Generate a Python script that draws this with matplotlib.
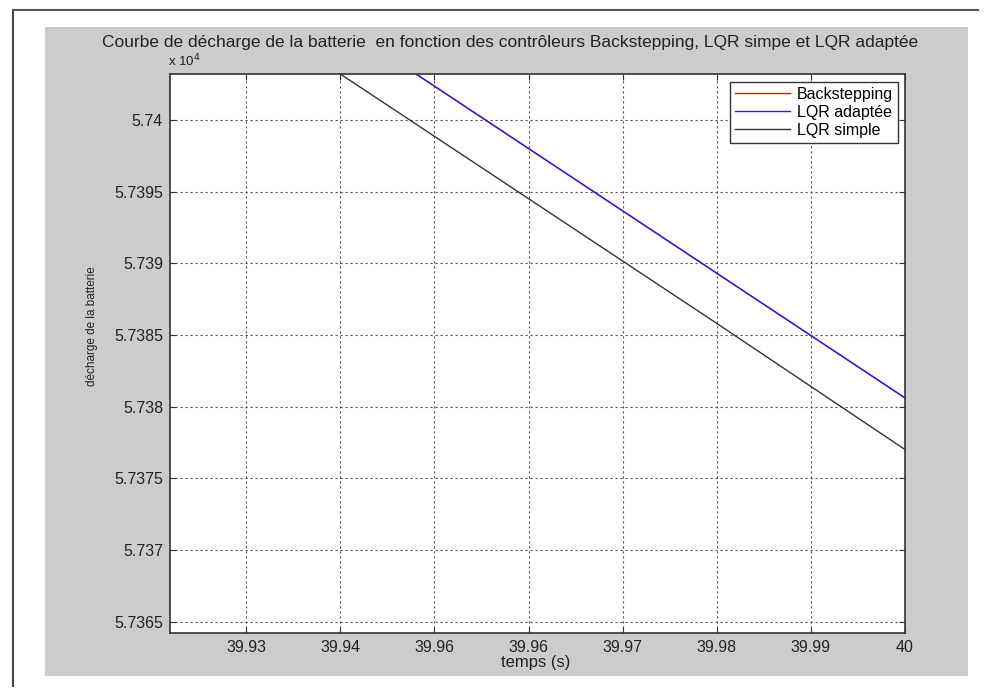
import matplotlib
matplotlib.use("Agg")
import matplotlib.pyplot as plt
from matplotlib.lines import Line2D
from matplotlib.patches import Rectangle

plt.rcParams['font.family'] = ['Liberation Sans', 'DejaVu Sans']

# ---- data ----
time_s = [39.92, 39.94, 39.96, 39.98, 40.00]
backstepping = [57415.4, 57406.7, 57398.0, 57389.3, 57380.6]
lqr_adaptee = [57415.4, 57406.7, 57398.0, 57389.3, 57380.6]
lqr_simple = [57411.9, 57403.2, 57394.5, 57385.8, 57377.0]

x_ticks = [39.93, 39.94, 39.95, 39.96, 39.97, 39.98, 39.99, 40.00]
x_tick_labels = ["39.93", "39.94", "39.96", "39.96", "39.97", "39.98", "39.99", "40"]
y_ticks = [57365, 57370, 57375, 57380, 57385, 57390, 57395, 57400]
y_tick_labels = ["5.7365", "5.737", "5.7375", "5.738", "5.7385", "5.739", "5.7395", "5.74"]
x_limits = (39.9219, 40.0)
y_limits = (57364.2, 57403.2)

title = "Courbe de décharge de la batterie  en fonction des contrôleurs Backstepping, LQR simpe et LQR adaptée"
series_labels = ["Backstepping", "LQR adaptée", "LQR simple"]

W, H = 984, 688
fig = plt.figure(figsize=(W / 100, H / 100), dpi=100)
fig.patch.set_facecolor('white')

def fx(px):
    return px / W

def fy(py):
    return 1 - py / H

# gray MATLAB figure area
fig.patches.append(Rectangle((fx(45), fy(676)), fx(968) - fx(45), fy(27) - fy(676),
                             transform=fig.transFigure, facecolor='#cccccc',
                             edgecolor='none', zorder=-5))
# outer document frame
fig.lines.append(Line2D([fx(13), fx(13)], [fy(10), fy(686)], transform=fig.transFigure,
                        color='#444444', lw=1.5, zorder=-5))
fig.lines.append(Line2D([fx(13), fx(978)], [fy(10), fy(10)], transform=fig.transFigure,
                        color='#555555', lw=1.5, zorder=-5))

ax = fig.add_axes([fx(170), fy(633), fx(905) - fx(170), fy(74) - fy(633)])
ax.set_facecolor('white')

ax.plot(time_s, backstepping, color='#ff0000', lw=1.0, label=series_labels[0])
ax.plot(time_s, lqr_adaptee, color='#2020ff', lw=1.0, label=series_labels[1])
ax.plot(time_s, lqr_simple, color='#333333', lw=1.0, label=series_labels[2])

ax.set_xlim(*x_limits)
ax.set_ylim(*y_limits)
ax.set_xticks(x_ticks)
ax.set_xticklabels(x_tick_labels, fontsize=11.5, color='#222222')
ax.set_yticks(y_ticks)
ax.set_yticklabels(y_tick_labels, fontsize=11.5, color='#222222')
ax.tick_params(direction='in', top=True, right=True, length=4, width=0.8, color='#333333', pad=5)

ax.grid(True, linestyle=(0, (2, 2.5)), color='#555555', lw=0.8)
for s in ax.spines.values():
    s.set_linewidth(1.2)
    s.set_color('#333333')

leg = ax.legend(loc='upper right', bbox_to_anchor=(0.990, 0.986), borderaxespad=0,
                fontsize=11.5, fancybox=False, framealpha=1, edgecolor='#333333',
                handlelength=3.4, handletextpad=0.45, labelspacing=0.2, borderpad=0.3)
leg.get_frame().set_linewidth(1.0)

fig.text(fx(510), fy(43), title, ha='center', va='center', fontsize=12.5, color='#222222')
fig.text(fx(168), fy(61), r'x 10$^{4}$', ha='left', va='center', fontsize=9.5, color='#222222')
fig.text(fx(536), fy(663), "temps (s)", ha='center', va='center', fontsize=12, color='#222222')
fig.text(fx(92), fy(326), "décharge de la batterie", ha='center', va='center', rotation=90,
         fontsize=8.5, color='#222222')

fig.savefig('out.png', dpi=100, facecolor=fig.get_facecolor())
